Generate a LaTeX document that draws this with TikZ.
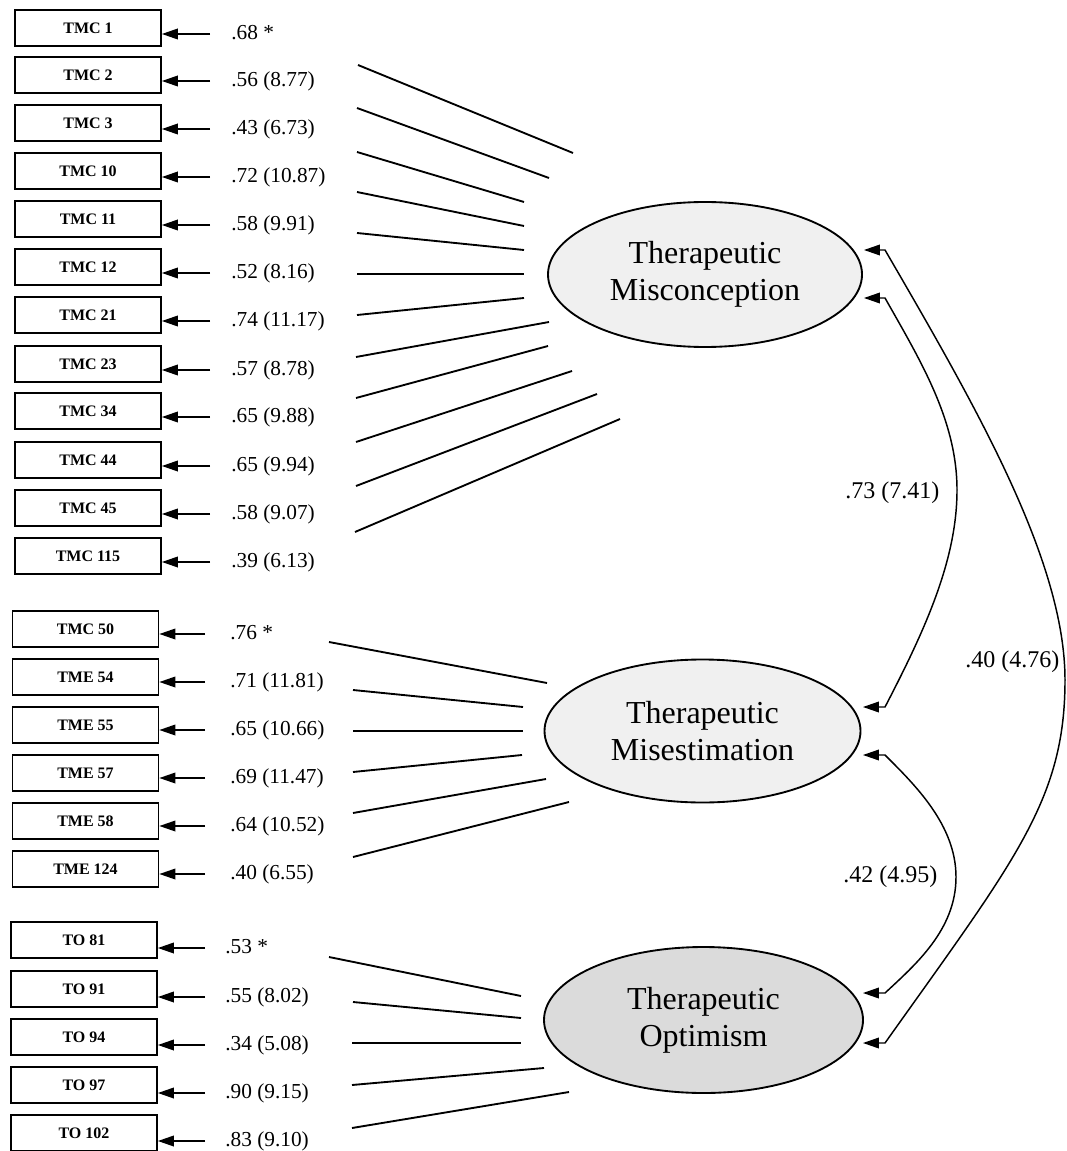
\documentclass[tikz,border=0pt]{standalone}
\usepackage{fontspec}
\setmainfont{Liberation Serif}
\usetikzlibrary{arrows.meta,shapes.geometric,calc}
\begin{document}
\begin{tikzpicture}[x=0.75pt,y=-0.75pt,
  obs/.style={draw,line width=1.3pt,minimum width=146*0.75pt,minimum height=36*0.75pt,inner sep=0pt,font=\fontsize{12}{14}\selectfont\bfseries},
  lat/.style={draw,line width=1.4pt,ellipse,inner sep=0pt,align=center,font=\fontsize{24}{28}\selectfont},
  ld/.style={anchor=west,inner xsep=#1*0.75pt,inner ysep=0pt,text height=11pt,text depth=3pt,font=\fontsize{16}{19}\selectfont},
  cl/.style={inner sep=0pt,font=\fontsize{18}{21}\selectfont},
  arr/.style={-{Triangle[length=12pt,width=8pt]},line width=1.1pt},
  cov/.style={{Triangle[length=12pt,width=8pt]}-{Triangle[length=12pt,width=8pt]},line width=1.1pt},
  seg/.style={line width=1.4pt}]
\useasboundingbox (0,0) rectangle (1066,1151);

% latent variables
\node[lat,fill=gray!12,minimum width=314*0.75pt,minimum height=145*0.75pt] (mc) at (705,274.5) {Therapeutic\\Misconception};
\node[lat,fill=gray!12,minimum width=316*0.75pt,minimum height=143*0.75pt] (me) at (702.5,731) {Therapeutic\\Misestimation};
\node[lat,fill=gray!28,minimum width=319*0.75pt,minimum height=146*0.75pt] (op) at (703.5,1020) {Therapeutic\\Optimism};

% TMC indicators
\foreach \i/\y/\t/\v in {1/28/TMC 1/.68 *, 2/75/TMC 2/.56 (8.77), 3/123/TMC 3/.43 (6.73), 4/171/TMC 10/.72 (10.87), 5/219/TMC 11/.58 (9.91), 6/267/TMC 12/.52 (8.16), 7/315/TMC 21/.74 (11.17), 8/364/TMC 23/.57 (8.78), 9/411/TMC 34/.65 (9.88), 10/460/TMC 44/.65 (9.94), 11/508/TMC 45/.58 (9.07), 12/556/TMC 115/.39 (6.13)}{
  \node[obs] (m\i) at (88,\y) {\t};
  \node[ld=21] (lm\i) at (210,\y+6) {\v};
  \draw[arr] (lm\i.west) -- (lm\i.west -| m\i.east);
}
% TME indicators
\foreach \i/\y/\t/\v in {1/629/TMC 50/.76 *, 2/677/TME 54/.71 (11.81), 3/725/TME 55/.65 (10.66), 4/773/TME 57/.69 (11.47), 5/821/TME 58/.64 (10.52), 6/869/TME 124/.40 (6.55)}{
  \node[obs] (e\i) at (85.5,\y) {\t};
  \node[ld=25] (le\i) at (205,\y+5) {\v};
  \draw[arr] (le\i.west) -- (le\i.west -| e\i.east);
}
% TO indicators
\foreach \i/\y/\t/\v in {1/940/TO 81/.53 *, 2/989/TO 91/.55 (8.02), 3/1037/TO 94/.34 (5.08), 4/1085/TO 97/.90 (9.15), 5/1133/TO 102/.83 (9.10)}{
  \node[obs] (o\i) at (84,\y) {\t};
  \node[ld=20] (lo\i) at (205,\y+8) {\v};
  \draw[arr] (lo\i.west) -- (lo\i.west -| o\i.east);
}

% loading lines (free segments)
\foreach \i/\ax/\ay/\bx/\by in {1/358/65/573/153, 2/357/108/549/178, 3/357/152/524/202, 4/357/192/524/226, 5/357/233/524/250, 6/357/274/524/274, 7/357/315/524/298, 8/356/357/549/322, 9/356/398/548/346, 10/356/442/572/371, 11/356/486/597/394, 12/355/532/620/419}{
  \coordinate (mcA\i) at (\ax,\ay);
  \coordinate (mcB\i) at (\bx,\by);
  \draw[seg] (mcA\i) -- (mcB\i);
}
\foreach \i/\ax/\ay/\bx/\by in {1/329/642/547/683, 2/353/690/523/707, 3/353/731/523/731, 4/353/772/522/755, 5/353/813/546/779, 6/353/857/569/802}{
  \coordinate (meA\i) at (\ax,\ay);
  \coordinate (meB\i) at (\bx,\by);
  \draw[seg] (meA\i) -- (meB\i);
}
\foreach \i/\ax/\ay/\bx/\by in {1/329/957/521/996, 2/353/1002/521/1018, 3/352/1043/521/1043, 4/352/1085/544/1068, 5/352/1128/569/1092}{
  \coordinate (opA\i) at (\ax,\ay);
  \coordinate (opB\i) at (\bx,\by);
  \draw[seg] (opA\i) -- (opB\i);
}

% covariances
\draw[cov] ($(mc.east)+(1,23.5)$) -- (885,298) .. controls (920,360) and (957,420) .. (957,490)
  .. controls (957,560) and (925,630) .. (885,707) -- ($(me.east)+(1.5,-24)$);
\draw[cov] ($(me.east)+(1.5,24)$) -- (885,755) .. controls (915,785) and (956,825) .. (956,877)
  .. controls (956,930) and (915,965) .. (885,993) -- ($(op.east)+(-1,-27)$);
\draw[cov] ($(mc.east)+(1,-24.5)$) -- (885,250) .. controls (975,405) and (1065,560) .. (1065,680)
  .. controls (1065,800) and (1015,860) .. (885,1043) -- ($(op.east)+(-1,23)$);

\node[cl,anchor=west] (c1) at (845,493) {.73 (7.41)};
\node[cl,anchor=west] (c2) at (965,662) {.40 (4.76)};
\node[cl,anchor=west] (c3) at (843,877) {.42 (4.95)};
\end{tikzpicture}
\end{document}
